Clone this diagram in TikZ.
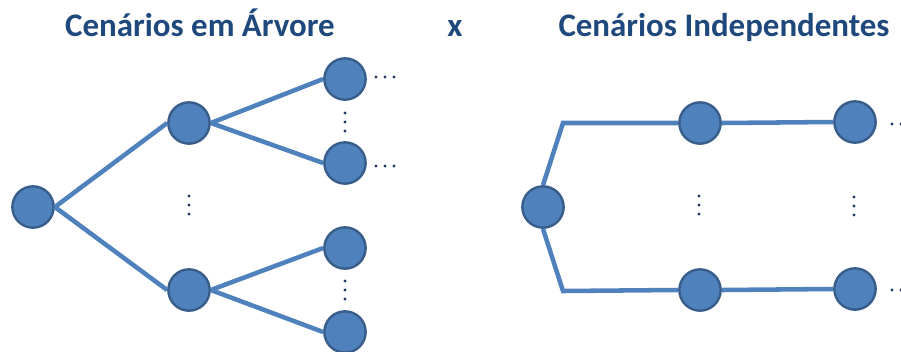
\documentclass[tikz,border=0pt]{standalone}
\usepackage{fontspec}
\setmainfont{Carlito}
\definecolor{nodefill}{HTML}{4F81BD}
\definecolor{nodeline}{HTML}{385D8A}
\definecolor{titleblue}{HTML}{1F497D}
\definecolor{dotcol}{HTML}{1F3864}
\tikzset{
  sc/.style={circle, fill=nodefill, draw=nodeline, line width=1.8pt, minimum size=31pt, inner sep=0pt},
  link/.style={draw=nodefill, line width=3.4pt},
  ttl/.style={text=titleblue, font=\fontsize{24.7}{28}\selectfont\bfseries, inner sep=0pt, anchor=base},
}
\newcommand{\hdots}[2]{\foreach \d in {0,9,18}{\fill[dotcol] ({#1+\d},#2) circle (1.6);}}
\newcommand{\vdotsat}[2]{\foreach \d in {-9,0,9}{\fill[dotcol] (#1,{#2+\d}) circle (1.6);}}
\begin{document}
\begin{tikzpicture}[x=0.75pt,y=-0.75pt]
\useasboundingbox (0,0) rectangle (901,351);
% titles
\node[ttl] (t1) at (200,36) {Cenários em Árvore};
\node[ttl] (tx) at (455,36) {x};
\node[ttl] (t2) at (724,36) {Cenários Independentes};
% left tree
\node[sc] (r) at (33,207) {};
\node[sc] (m1) at (189,123) {};
\node[sc] (m2) at (189,290) {};
\node[sc] (l1) at (345,79) {};
\node[sc] (l2) at (345,163) {};
\node[sc] (l3) at (345,248) {};
\node[sc] (l4) at (345,332) {};
\draw[link] (r.east) -- (m1.west);
\draw[link] (r.east) -- (m2.west);
\draw[link] (m1.east) -- (l1.west);
\draw[link] (m1.east) -- (l2.west);
\draw[link] (m2.east) -- (l3.west);
\draw[link] (m2.east) -- (l4.west);
\vdotsat{189}{205}
\vdotsat{345}{122}
\vdotsat{345}{290}
\hdots{376}{77}
\hdots{376}{166}
% right
\node[sc] (R) at (543,207) {};
\coordinate (c1) at (563,123);
\coordinate (c2) at (563,291);
\node[sc] (a1) at (700,123) {};
\node[sc] (a2) at (700,290) {};
\node[sc] (b1) at (855,122) {};
\node[sc] (b2) at (855,289) {};
\draw[link] (R.north) -- (c1) -- (a1.west);
\draw[link] (R.south) -- (c2) -- (a2.west);
\draw[link] (a1.east) -- (b1.west);
\draw[link] (a2.east) -- (b2.west);
\vdotsat{699}{205}
\vdotsat{854}{206}
\hdots{892}{124}
\hdots{892}{290}
\end{tikzpicture}
\end{document}
